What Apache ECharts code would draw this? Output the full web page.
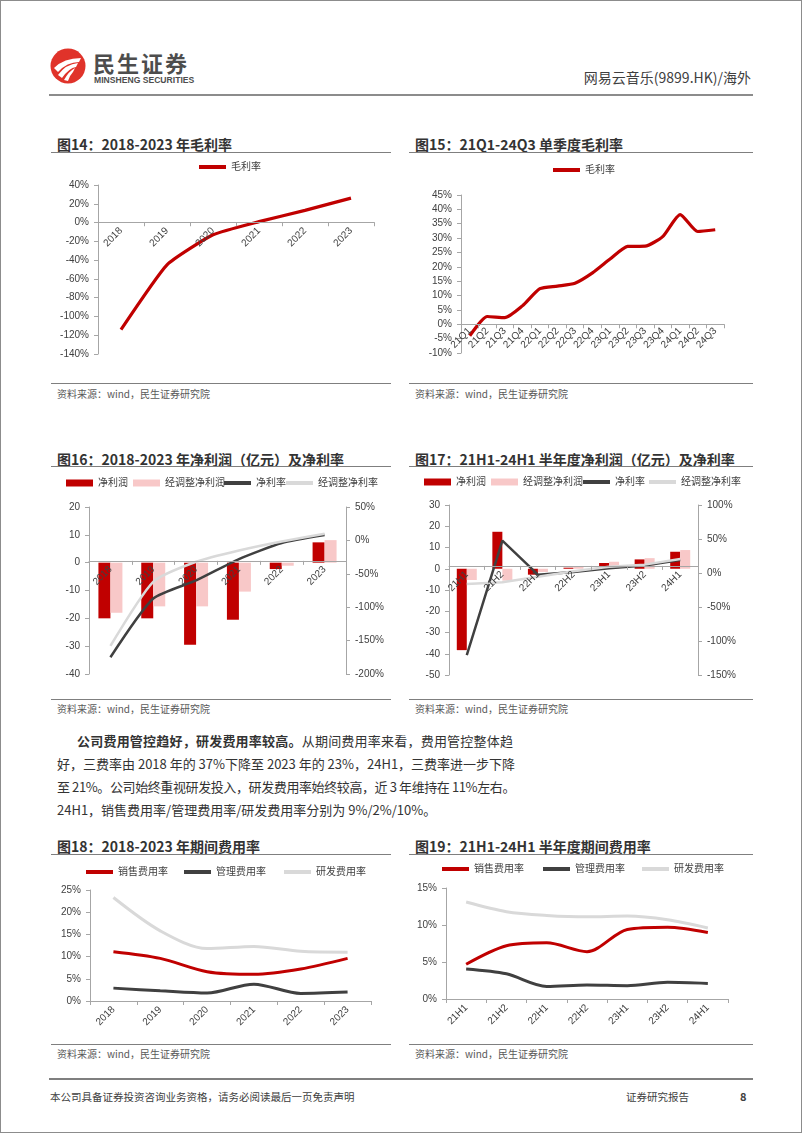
<!DOCTYPE html>
<html><head><meta charset="utf-8">
<script src="https://cdn.jsdelivr.net/npm/echarts@6/dist/echarts.min.js"></script>
<style>
html,body{margin:0;padding:0;background:#fff;}
#page{position:relative;width:802px;height:1133px;box-sizing:border-box;border:1px solid #8c8c8c;overflow:hidden;font-family:"Noto Sans CJK SC","Noto Sans",sans-serif;color:#333;}
.abs{position:absolute;white-space:nowrap;}
.title{position:absolute;white-space:nowrap;font-size:14px;font-weight:bold;color:#333;line-height:16px;}
.hline{position:absolute;height:0;border-top:1.5px solid #7f7f7f;}
.src{position:absolute;white-space:nowrap;font-size:10px;color:#595959;line-height:12px;}
.chart{position:absolute;}
.pl{position:absolute;font-size:13px;line-height:18px;color:#333;white-space:nowrap;}
.jl{text-align:justify;text-align-last:justify;text-justify:inter-character;}
</style></head>
<body><div id="page">
<svg class="abs" style="left:49px;top:47px;" width="36" height="36" viewBox="0 0 36 36">
  <circle cx="18" cy="18" r="17.5" fill="#E0332A"/>
  <path d="M4 20 Q14 10 31 10 L29 14 Q17 14 8 24 Z" fill="#fff"/>
  <path d="M8 27 Q16 16 28 15 L26 19 Q19 20 12 30 Z" fill="#fff"/>
  <path d="M14 32 Q19 23 25 20 L23 24 Q20 27 18 33 Z" fill="#fff"/>
</svg>
<div class="abs" style="left:92px;top:49px;font-size:22px;font-weight:bold;color:#4d4d4d;letter-spacing:2px;line-height:24px;">民生证券</div>
<div class="abs" style="left:93px;top:74px;font-size:8.6px;font-weight:bold;color:#4d4d4d;line-height:10px;font-family:'Liberation Sans',sans-serif;">MINSHENG SECURITIES</div>
<div class="abs" style="right:50px;top:67px;font-size:14px;color:#404040;line-height:18px;">网易云音乐(9899.HK)/海外</div>
<div class="hline" style="left:48px;width:704px;top:93px;border-top:2px solid #8c8c8c;"></div>

<div class="title" style="left:56px;top:135px;">图14：2018-2023 年毛利率</div>
<div class="hline" style="left:50px;width:340px;top:151px;"></div>
<div class="title" style="left:414px;top:135px;">图15：21Q1-24Q3 单季度毛利率</div>
<div class="hline" style="left:408px;width:344px;top:151px;"></div>
<div id="c14" class="chart" style="left:50px;top:155px;width:340px;height:225px;"></div>
<div id="c15" class="chart" style="left:405px;top:155px;width:345px;height:225px;"></div>
<div class="hline" style="left:50px;width:340px;top:382px;"></div>
<div class="hline" style="left:408px;width:344px;top:382px;"></div>
<div class="src" style="left:56px;top:387px;">资料来源：wind，民生证券研究院</div>
<div class="src" style="left:414px;top:387px;">资料来源：wind，民生证券研究院</div>

<div class="title" style="left:56px;top:450px;">图16：2018-2023 年净利润（亿元）及净利率</div>
<div class="hline" style="left:50px;width:340px;top:465px;"></div>
<div class="title" style="left:414px;top:450px;">图17：21H1-24H1 半年度净利润（亿元）及净利率</div>
<div class="hline" style="left:408px;width:344px;top:465px;"></div>
<div id="c16" class="chart" style="left:50px;top:468px;width:345px;height:228px;"></div>
<div id="c17" class="chart" style="left:405px;top:468px;width:345px;height:228px;"></div>
<div class="hline" style="left:50px;width:340px;top:698px;"></div>
<div class="hline" style="left:408px;width:344px;top:698px;"></div>
<div class="src" style="left:56px;top:702px;">资料来源：wind，民生证券研究院</div>
<div class="src" style="left:414px;top:702px;">资料来源：wind，民生证券研究院</div>

<div class="pl jl" style="left:76px;top:731px;width:436px;"><b>公司费用管控趋好，研发费用率较高。</b>从期间费用率来看，费用管控整体趋</div>
<div class="pl jl" style="left:56px;top:754px;width:456px;">好，三费率由 2018 年的 37%下降至 2023 年的 23%，24H1，三费率进一步下降</div>
<div class="pl jl" style="left:56px;top:777px;width:458px;letter-spacing:-0.4px;">至 21%。公司始终重视研发投入，研发费用率始终较高，近 3 年维持在 11%左右。</div>
<div class="pl" style="left:56px;top:800px;">24H1，销售费用率/管理费用率/研发费用率分别为 9%/2%/10%。</div>

<div class="title" style="left:56px;top:837px;">图18：2018-2023 年期间费用率</div>
<div class="hline" style="left:50px;width:340px;top:853px;"></div>
<div class="title" style="left:414px;top:837px;">图19：21H1-24H1 半年度期间费用率</div>
<div class="hline" style="left:408px;width:344px;top:853px;"></div>
<div id="c18" class="chart" style="left:50px;top:855px;width:345px;height:186px;"></div>
<div id="c19" class="chart" style="left:405px;top:855px;width:345px;height:186px;"></div>
<div class="hline" style="left:50px;width:340px;top:1043px;"></div>
<div class="hline" style="left:408px;width:344px;top:1043px;"></div>
<div class="src" style="left:56px;top:1047px;">资料来源：wind，民生证券研究院</div>
<div class="src" style="left:414px;top:1047px;">资料来源：wind，民生证券研究院</div>

<div class="hline" style="left:48px;width:704px;top:1077px;border-top:2px solid #7f7f7f;"></div>
<div class="abs" style="left:49px;top:1089px;font-size:10.5px;color:#404040;line-height:14px;">本公司具备证券投资咨询业务资格，请务必阅读最后一页免责声明</div>
<div class="abs" style="left:625px;top:1089px;font-size:10.5px;color:#404040;line-height:14px;">证券研究报告</div>
<div class="abs" style="left:739px;top:1088px;font-size:11px;font-weight:bold;color:#404040;line-height:14px;">8</div>
</div>
<script>
// ---------- data ----------
const years = ['2018','2019','2020','2021','2022','2023'];
const quarters = ['21Q1','21Q2','21Q3','21Q4','22Q1','22Q2','22Q3','22Q4','23Q1','23Q2','23Q3','23Q4','24Q1','24Q2','24Q3'];
const halves = ['21H1','21H2','22H1','22H2','23H1','23H2','24H1'];

const grossMarginYear = [-114, -45, -13, 1, 13, 26];
const grossMarginQuarter = [-4, 2.7, 2.3, 6.4, 12.4, 13.3, 14.3, 17.9, 22.7, 27.1, 27.2, 30.5, 38.2, 32.3, 32.9];

const netProfitYear = [-20.0, -20.0, -29.5, -20.5, -2.3, 7.3];
const adjNetProfitYear = [-18.0, -15.7, -15.7, -10.4, -1.1, 8.1];
const netMarginYear = [-175, -87, -60, -28, -4, 8];
const adjNetMarginYear = [-158, -62, -32, -15, -1.5, 10];

const netProfitHalf = [-38.3, 17.4, -2.8, 0.5, 2.7, 4.4, 8.0];
const adjNetProfitHalf = [-5.3, -5.6, -1.5, 1.0, 3.3, 5.0, 8.8];
const netMarginHalf = [-120.6, 47.5, -2.5, 1.5, 7, 11, 19];
const adjNetMarginHalf = [-16, -13.7, -5.4, 2.5, 9.3, 12.3, 20.6];

const sellingRateYear = [11.1, 9.6, 6.6, 6.0, 7.2, 9.6];
const adminRateYear = [2.9, 2.3, 1.8, 3.8, 1.7, 2.0];
const rdRateYear = [23.3, 15.8, 11.8, 12.3, 11.2, 11.0];

const sellingRateHalf = [4.7, 7.2, 7.6, 6.4, 9.4, 9.7, 9.0];
const adminRateHalf = [4.05, 3.4, 1.7, 1.9, 1.8, 2.25, 2.1];
const rdRateHalf = [13.1, 11.8, 11.3, 11.1, 11.2, 10.7, 9.6];

// ---------- styles ----------
const FONT = '"Liberation Sans","Noto Sans CJK SC",sans-serif';
const RED = '#C00000', PINK = '#F8C8C8', DARK = '#404040', LIGHT = '#D9D9D9';
const AXIS = '#A6A6A6', LABEL = '#404040';

function catAxis(cats, margin) {
  return {
    type: 'category', data: cats, boundaryGap: true, z: 10,
    axisLine: { show: true, onZero: false, lineStyle: { color: AXIS, width: 1 } },
    axisTick: { show: true, length: 4, lineStyle: { color: AXIS } },
    axisLabel: { rotate: 45, interval: 0, fontSize: 10, color: LABEL, fontFamily: FONT, margin: margin || 7 },
    splitLine: { show: false }
  };
}
function valAxis(min, max, interval, pct, extra) {
  return Object.assign({
    type: 'value', min: min, max: max, interval: interval,
    axisLine: { show: true, lineStyle: { color: AXIS } },
    axisTick: { show: true, length: 4, lineStyle: { color: AXIS } },
    axisLabel: { fontSize: 10, color: LABEL, fontFamily: FONT, margin: 9,
      formatter: pct ? '{value}%' : '{value}' },
    splitLine: { show: false }
  }, extra || {});
}
function legendItem(name, left, top, icon, h) {
  return { data: [name], left: left, top: top, padding: 0, icon: icon || 'rect',
    itemWidth: 27, itemHeight: h || 4, itemGap: 0,
    textStyle: { fontSize: 10, color: LABEL, fontFamily: FONT } };
}
function lineSeries(name, data, color, width, smooth, yIdx) {
  return { name: name, type: 'line', data: data, yAxisIndex: yIdx || 0, symbol: 'none',
    smooth: smooth || false, lineStyle: { color: color, width: width }, itemStyle: { color: color } };
}
// place the category axis on the zero line of the first value axis, via the library's own scale
function draw(id, option) {
  const chart = echarts.init(document.getElementById(id));
  chart.setOption(option);
  const g = option.grid;
  const y0 = chart.convertToPixel({ yAxisIndex: 0 }, 0);
  const bottom = g.top + g.height;
  chart.setOption({ xAxis: { offset: y0 - bottom } });
  return chart;
}

// 14
draw('c14', {
  animation: false,
  grid: { left: 47, top: 29, width: 276, height: 169 },
  legend: [legendItem('毛利率', 148, 6)],
  xAxis: catAxis(years),
  yAxis: valAxis(-140, 40, 20, true),
  series: [lineSeries('毛利率', grossMarginYear, RED, 3.2, 0.15)]
});
// 15
draw('c15', {
  animation: false,
  grid: { left: 55, top: 39, width: 263, height: 158 },
  legend: [legendItem('毛利率', 147, 9)],
  xAxis: catAxis(quarters, 5),
  yAxis: valAxis(-10, 45, 5, true),
  series: [lineSeries('毛利率', grossMarginQuarter, RED, 3.2, 0.2)]
});
// 16
draw('c16', {
  animation: false,
  grid: { left: 38, top: 38, width: 257, height: 167 },
  legend: [legendItem('净利润', 15, 9, 'rect', 7), legendItem('经调整净利润', 82, 9, 'rect', 7),
           legendItem('净利率', 173, 9), legendItem('经调整净利率', 235, 9)],
  xAxis: catAxis(years),
  yAxis: [valAxis(-40, 20, 10, false), valAxis(-200, 50, 50, true, { position: 'right' })],
  series: [
    { name: '净利润', type: 'bar', data: netProfitYear, barWidth: 12, barGap: '0%', itemStyle: { color: RED } },
    { name: '经调整净利润', type: 'bar', data: adjNetProfitYear, barWidth: 12, barGap: '0%', itemStyle: { color: PINK } },
    lineSeries('净利率', netMarginYear, DARK, 2.5, 0.2, 1),
    lineSeries('经调整净利率', adjNetMarginYear, LIGHT, 2.5, 0.2, 1)
  ]
});
// 17
draw('c17', {
  animation: false,
  grid: { left: 43, top: 36, width: 249, height: 170 },
  legend: [legendItem('净利润', 18, 8, 'rect', 7), legendItem('经调整净利润', 85, 8, 'rect', 7),
           legendItem('净利率', 177, 8), legendItem('经调整净利率', 243, 8)],
  xAxis: catAxis(halves),
  yAxis: [valAxis(-50, 30, 10, false), valAxis(-150, 100, 50, true, { position: 'right' })],
  series: [
    { name: '净利润', type: 'bar', data: netProfitHalf, barWidth: 10, barGap: '0%', itemStyle: { color: RED } },
    { name: '经调整净利润', type: 'bar', data: adjNetProfitHalf, barWidth: 10, barGap: '0%', itemStyle: { color: PINK } },
    lineSeries('净利率', netMarginHalf, DARK, 2.5, false, 1),
    lineSeries('经调整净利率', adjNetMarginHalf, LIGHT, 2.5, false, 1)
  ]
});
// 18
draw('c18', {
  animation: false,
  grid: { left: 39, top: 34, width: 281, height: 111 },
  legend: [legendItem('销售费用率', 35, 11), legendItem('管理费用率', 133, 11), legendItem('研发费用率', 233, 11)],
  xAxis: catAxis(years),
  yAxis: valAxis(0, 25, 5, true),
  series: [
    lineSeries('销售费用率', sellingRateYear, RED, 3, 0.3),
    lineSeries('管理费用率', adminRateYear, DARK, 3, 0.3),
    lineSeries('研发费用率', rdRateYear, LIGHT, 3, 0.3)
  ]
});
// 19
draw('c19', {
  animation: false,
  grid: { left: 40, top: 32, width: 282, height: 111 },
  legend: [legendItem('销售费用率', 36, 8), legendItem('管理费用率', 137, 8), legendItem('研发费用率', 236, 8)],
  xAxis: catAxis(halves),
  yAxis: valAxis(0, 15, 5, true),
  series: [
    lineSeries('销售费用率', sellingRateHalf, RED, 3, 0.3),
    lineSeries('管理费用率', adminRateHalf, DARK, 3, 0.3),
    lineSeries('研发费用率', rdRateHalf, LIGHT, 3, 0.3)
  ]
});
</script>
</body></html>
